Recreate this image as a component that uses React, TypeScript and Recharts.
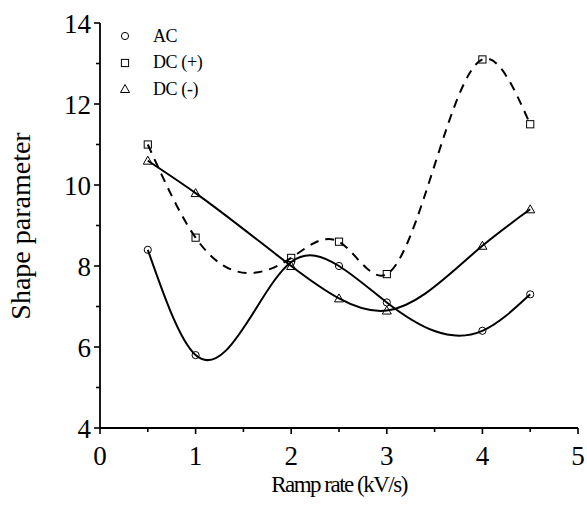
import React from 'react';
import { ComposedChart, Line, XAxis, YAxis, Label } from 'recharts';

const rampRates = [0.5, 1, 2, 2.5, 3, 4, 4.5];
const acValues = [8.4, 5.8, 8.1, 8.0, 7.1, 6.4, 7.3];
const dcPlusValues = [11.0, 8.7, 8.2, 8.6, 7.8, 13.1, 11.5];
const dcMinusValues = [10.6, 9.8, 8.0, 7.2, 6.9, 8.5, 9.4];

const xTicks = [0, 0.5, 1, 1.5, 2, 2.5, 3, 3.5, 4, 4.5, 5];
const yTicks = [4, 5, 6, 7, 8, 9, 10, 11, 12, 13, 14];

const FONT = "'Liberation Serif', 'Times New Roman', serif";

const data = rampRates.map((r, i) => ({
  rate: r,
  ac: acValues[i],
  dcPlus: dcPlusValues[i],
  dcMinus: dcMinusValues[i],
}));

// natural cubic spline in x (like the origin-style smoothing in the figure)
function splineX(context: any) {
  let xs: number[] = [];
  let ys: number[] = [];
  return {
    areaStart() {},
    areaEnd() {},
    lineStart() {
      xs = [];
      ys = [];
    },
    point(x: number, y: number) {
      xs.push(+x);
      ys.push(+y);
    },
    lineEnd() {
      const n = xs.length;
      if (!n) return;
      context.moveTo(xs[0], ys[0]);
      if (n < 3) {
        if (n === 2) context.lineTo(xs[1], ys[1]);
        return;
      }
      const h: number[] = [];
      for (let i = 0; i < n - 1; i++) h.push(xs[i + 1] - xs[i]);
      const M = new Array(n).fill(0);
      const a: number[] = [], b: number[] = [], c: number[] = [], d: number[] = [];
      for (let i = 1; i < n - 1; i++) {
        a.push(h[i - 1]);
        b.push(2 * (h[i - 1] + h[i]));
        c.push(h[i]);
        d.push(6 * ((ys[i + 1] - ys[i]) / h[i] - (ys[i] - ys[i - 1]) / h[i - 1]));
      }
      const m = b.length;
      for (let i = 1; i < m; i++) {
        const w = a[i] / b[i - 1];
        b[i] -= w * c[i - 1];
        d[i] -= w * d[i - 1];
      }
      M[m] = d[m - 1] / b[m - 1];
      for (let i = m - 2; i >= 0; i--) M[i + 1] = (d[i] - c[i] * M[i + 2]) / b[i];
      for (let i = 0; i < n - 1; i++) {
        const hi = h[i];
        const s = (ys[i + 1] - ys[i]) / hi;
        const d0 = s - (hi * (2 * M[i] + M[i + 1])) / 6;
        const d1 = s + (hi * (M[i] + 2 * M[i + 1])) / 6;
        context.bezierCurveTo(
          xs[i] + hi / 3, ys[i] + (d0 * hi) / 3,
          xs[i + 1] - hi / 3, ys[i + 1] - (d1 * hi) / 3,
          xs[i + 1], ys[i + 1]
        );
      }
    },
  };
}

const CircleDot = (p: any) => (
  <circle cx={p.cx} cy={p.cy} r={3.6} fill="none" stroke="#000" strokeWidth={1} />
);
const SquareDot = (p: any) => (
  <rect x={p.cx - 3.6} y={p.cy - 3.6} width={7.2} height={7.2} fill="none" stroke="#000" strokeWidth={1} />
);
const TriangleDot = (p: any) => (
  <path d={`M${p.cx},${p.cy - 4.5} L${p.cx + 4.5},${p.cy + 3.5} L${p.cx - 4.5},${p.cy + 3.5} Z`} fill="none" stroke="#000" strokeWidth={1} />
);

const XTick = (props: any) => {
  const { x, y, payload } = props;
  const major = Number.isInteger(payload.value);
  return (
    <g>
      <line x1={x} x2={x} y1={y} y2={y + (major ? 6 : 4)} stroke="#000" strokeWidth={1.6} />
      {major && (
        <text x={x} y={y + 37} textAnchor="middle" style={{ fontFamily: FONT, fontSize: 27 }} fill="#000">
          {payload.value}
        </text>
      )}
    </g>
  );
};

const YTick = (props: any) => {
  const { x, y, payload } = props;
  const major = payload.value % 2 === 0;
  return (
    <g>
      <line x1={x} x2={x - (major ? 6 : 4)} y1={y} y2={y} stroke="#000" strokeWidth={1.6} />
      {major && (
        <text x={x - 9} y={y + 9.5} textAnchor="end" style={{ fontFamily: FONT, fontSize: 27 }} fill="#000">
          {payload.value}
        </text>
      )}
    </g>
  );
};

const legendItems = [
  { label: 'AC', Dot: CircleDot },
  { label: 'DC (+)', Dot: SquareDot },
  { label: 'DC (-)', Dot: TriangleDot },
];

export default function App() {
  return (
    <div style={{ position: 'absolute', left: 0, top: 0, width: 587, height: 522, background: '#fff' }}>
      <ComposedChart width={587} height={522} data={data} margin={{ top: 23, right: 9, bottom: 0, left: 0 }}>
        <XAxis
          dataKey="rate"
          type="number"
          domain={[0, 5]}
          ticks={xTicks}
          interval={0}
          height={94}
          tickSize={0}
          tickMargin={0}
          tickLine={false}
          axisLine={{ stroke: '#000', strokeWidth: 1.8 }}
          tick={<XTick />}
        >
          <Label
            content={() => (
              <text x={339} y={492} textAnchor="middle" style={{ fontFamily: FONT, fontSize: 23, letterSpacing: -1.5 }} fill="#000">
                Ramp rate (kV/s)
              </text>
            )}
          />
        </XAxis>
        <YAxis
          type="number"
          domain={[4, 14]}
          ticks={yTicks}
          interval={0}
          width={100}
          tickSize={0}
          tickMargin={0}
          tickLine={false}
          axisLine={{ stroke: '#000', strokeWidth: 1.8 }}
          tick={<YTick />}
        >
          <Label
            content={() => (
              <text x={30} y={226} transform="rotate(-90 30 226)" textAnchor="middle" style={{ fontFamily: FONT, fontSize: 28 }} fill="#000">
                Shape parameter
              </text>
            )}
          />
        </YAxis>
        <Line type={splineX as any} dataKey="ac" stroke="#000" strokeWidth={2} dot={<CircleDot />} activeDot={false} isAnimationActive={false} />
        <Line type={splineX as any} dataKey="dcPlus" stroke="#000" strokeWidth={2} strokeDasharray="9 7" dot={<SquareDot />} activeDot={false} isAnimationActive={false} />
        <Line type={splineX as any} dataKey="dcMinus" stroke="#000" strokeWidth={2} dot={<TriangleDot />} activeDot={false} isAnimationActive={false} />
      </ComposedChart>
      <div style={{ position: 'absolute', left: 118, top: 23, fontFamily: FONT, fontSize: 18, color: '#000', letterSpacing: -0.4 }}>
        {legendItems.map(({ label, Dot }) => (
          <div key={label} style={{ display: 'flex', alignItems: 'center', height: 26.5 }}>
            <svg width={14} height={14} style={{ marginRight: 21 }}>
              <Dot cx={7} cy={7} />
            </svg>
            <span>{label}</span>
          </div>
        ))}
      </div>
    </div>
  );
}
